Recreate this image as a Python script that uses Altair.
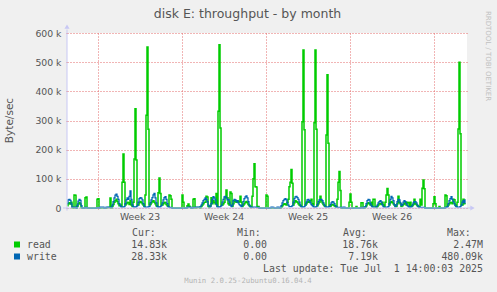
import altair as alt
import pandas as pd

# ---- data, kB/s, one value per 2-hour slot ----
# first slot: Thu 29 May 10:00; last slot: Tue 1 Jul 14:00
READ_K = [
    8, 15, 18, 14, 20, 2, 0,                                   # Thu 29 May
    45, 44, 0, 5, 15, 18, 14, 2, 0, 0, 0, 35,                  # Fri 30
    38, 0, 0, 0, 0, 0, 0, 0, 0, 0, 0, 30,                      # Sat 31
    32, 0, 0, 0, 0, 0, 0, 0, 1, 1, 2, 2,                       # Sun 1 Jun
    34, 0, 5, 12, 20, 25, 30, 22, 15, 8, 10, 5,                # Mon 2
    88, 185, 88, 10, 15, 20, 18, 12, 25, 10, 5, 20,            # Tue 3
    168, 340, 165, 10, 10, 18, 22, 20, 15, 10, 5, 45,          # Wed 4
    318, 552, 270, 10, 12, 18, 22, 25, 20, 15, 8, 5,           # Thu 5
    52, 103, 50, 10, 10, 15, 20, 18, 12, 8, 5, 45,             # Fri 6
    42, 30, 0, 0, 0, 0, 0, 0, 0, 0, 0, 0,                      # Sat 7
    45, 20, 0, 0, 0, 8, 14, 6, 2, 0, 0, 30,                    # Sun 8
    32, 0, 2, 2, 2, 2, 0, 5, 10, 15, 20, 20,                   # Mon 9
    40, 38, 5, 2, 8, 35, 15, 25, 20, 15, 50, 5,                # Tue 10
    332, 560, 274, 10, 10, 15, 20, 35, 62, 35, 15, 10,         # Wed 11
    55, 50, 5, 15, 22, 25, 20, 25, 20, 22, 40, 20,             # Thu 12
    5, 10, 15, 20, 22, 18, 12, 8, 5, 2, 40, 100,               # Fri 13
    152, 73, 72, 5, 5, 0, 0, 0, 0, 0, 0, 0,                    # Sat 14
    45, 40, 0, 0, 0, 0, 0, 0, 0, 0, 0, 0,                      # Sun 15
    0, 0, 0, 3, 8, 12, 15, 13, 10, 20, 30, 73,                 # Mon 16
    88, 132, 85, 10, 18, 25, 22, 20, 15, 10, 8, 5,             # Tue 17
    296, 542, 268, 10, 15, 20, 22, 20, 25, 30, 15, 10,         # Wed 18
    292, 542, 270, 8, 15, 20, 40, 25, 18, 12, 8, 5,            # Thu 19
    250, 457, 222, 5, 5, 10, 12, 10, 8, 5, 3, 30,              # Fri 20
    88, 125, 60, 0, 0, 0, 0, 0, 0, 0, 0, 20,                   # Sat 21
    48, 20, 0, 0, 0, 0, 5, 0, 0, 0, 0, 18,                     # Sun 22
    18, 0, 0, 3, 8, 15, 18, 15, 10, 20, 5, 30,                 # Mon 23
    30, 5, 2, 5, 10, 15, 15, 12, 20, 10, 5, 20,                # Tue 24
    45, 67, 45, 10, 18, 22, 20, 15, 10, 5, 5, 15,              # Wed 25
    40, 20, 15, 5, 8, 12, 15, 20, 10, 20, 18, 5,               # Thu 26
    20, 5, 8, 12, 30, 15, 12, 8, 5, 3, 30, 10,                 # Fri 27
    68, 96, 66, 0, 0, 0, 0, 0, 0, 0, 0, 15,                    # Sat 28
    39, 15, 0, 0, 0, 5, 0, 0, 0, 0, 0, 45,                     # Sun 29
    42, 5, 10, 15, 20, 18, 15, 30, 28, 10, 5, 20,              # Mon 30
    271, 500, 255, 10, 10, 30, 15, 14.83,                      # Tue 1 Jul
]
WRITE_K = [
    15, 28, 30, 26, 14, 3, 2,
    3, 3, 0, 10, 24, 30, 26, 8, 0, 0, 0, 2,
    2, 0, 0, 0, 0, 0, 0, 0, 0, 0, 0, 1,
    1, 0, 3, 3, 3, 3, 0, 0, 3, 3, 3, 2,
    2, 2, 10, 22, 35, 44, 48, 40, 30, 15, 8, 4,
    3, 3, 5, 15, 28, 35, 30, 40, 59, 30, 10, 5,
    3, 3, 5, 8, 20, 32, 36, 34, 28, 15, 5, 3,
    3, 3, 4, 6, 18, 28, 36, 45, 50, 35, 18, 6,
    3, 3, 5, 8, 18, 28, 36, 39, 30, 15, 5, 2,
    2, 1, 0, 0, 0, 0, 0, 0, 0, 0, 0, 0,
    0, 0, 0, 0, 0, 2, 3, 3, 3, 0, 0, 2,
    2, 2, 3, 3, 3, 3, 5, 10, 18, 25, 30, 35,
    30, 22, 10, 5, 5, 15, 30, 39, 35, 28, 12, 5,
    3, 3, 5, 8, 20, 30, 38, 40, 35, 28, 30, 20,
    10, 5, 10, 25, 30, 28, 22, 25, 18, 12, 8, 5,
    10, 22, 32, 38, 42, 35, 22, 10, 4, 2, 2, 3,
    3, 3, 2, 2, 2, 0, 0, 0, 0, 0, 0, 0,
    0, 0, 0, 0, 0, 3, 3, 2, 0, 0, 0, 3,
    3, 0, 2, 8, 18, 25, 30, 32, 28, 18, 10, 5,
    5, 5, 8, 20, 32, 38, 40, 36, 30, 20, 10, 5,
    3, 3, 5, 10, 20, 28, 30, 25, 18, 12, 8, 5,
    3, 3, 5, 12, 22, 28, 30, 30, 25, 18, 10, 5,
    3, 3, 4, 6, 12, 18, 22, 20, 15, 8, 4, 2,
    2, 2, 2, 2, 0, 3, 3, 0, 0, 0, 0, 0,
    0, 0, 0, 0, 0, 0, 0, 0, 0, 0, 0, 2,
    2, 0, 3, 5, 15, 25, 30, 28, 15, 8, 4, 3,
    3, 3, 5, 10, 18, 22, 25, 20, 12, 5, 3, 3,
    3, 3, 5, 15, 30, 40, 35, 25, 12, 5, 10, 22,
    30, 28, 18, 8, 12, 20, 25, 22, 15, 8, 5, 3,
    3, 5, 10, 18, 22, 22, 18, 10, 5, 3, 2, 2,
    2, 2, 2, 0, 0, 0, 0, 0, 0, 0, 0, 0,
    0, 0, 0, 0, 0, 0, 0, 0, 0, 0, 0, 2,
    2, 5, 15, 25, 32, 39, 30, 22, 15, 8, 5, 3,
    3, 3, 5, 10, 20, 25, 18, 28.33,
]
SPAN_H = 800                       # hours shown on the x axis
WEEK_START_H = [62, 230, 398, 566, 734]
WEEK_MID_H = [146, 314, 482, 650]
WEEK_LABELS = ["Week 23", "Week 24", "Week 25", "Week 26"]
Y_TICKS = [0, 100000, 200000, 300000, 400000, 500000, 600000]

SERIES = ["read", "write"]
CUR = ["14.83k", "28.33k"]
MIN = ["0.00", "0.00"]
AVG = ["18.76k", "7.19k"]
MAX = ["2.47M", "480.09k"]

TITLE = "disk E: throughput - by month"
YTITLE = "Byte/sec"
LAST = "Last update: Tue Jul\u00a0\u00a01 14:00:03 2025"
FOOT = "Munin 2.0.25-2ubuntu0.16.04.4"
MARK = "RRDTOOL / TOBI OETIKER"

GREEN = "#00CC00"
BLUE = "#0066B3"
GRID = "#e26a6a"
AXISC = "#c8c8f4"
TXT = "#555555"
SANS = "DejaVu Sans"
MONO = "DejaVu Sans Mono"

n = len(READ_K)
df = pd.DataFrame({
    "h": [2 * i + 1 for i in range(n)],
    "read": [v * 1000 for v in READ_K],
    "write": [v * 1000 for v in WRITE_K],
})

xs = alt.Scale(domain=[0, SPAN_H], nice=False, zero=False)
ys = alt.Scale(domain=[0, 600000], nice=False)

X_AX = alt.Axis(
    values=WEEK_START_H, tickCount=len(WEEK_START_H) + 2, labels=False, title=None, domain=False,
    grid=True, gridColor=GRID, gridDash=[1, 2], gridWidth=1,
    ticks=True, tickSize=3, tickColor=GRID, tickDash=[1, 2], tickWidth=1)
Y_AX = alt.Axis(
    values=Y_TICKS, tickCount=len(Y_TICKS) + 2, title=None, domain=False,
    labelOverlap=False, labelFlush=False,
    labelExpr="datum.value == 0 ? '0\u2002\u00a0' : format(datum.value / 1000, 'd') + ' k'",
    labelFont=SANS, labelFontSize=9.3, labelColor=TXT, labelPadding=4,
    grid=True, gridColor=GRID, gridDash=[1, 2], gridWidth=1,
    ticks=True, tickSize=2, tickColor=GRID, tickDash=[1, 2], tickWidth=1)

X = alt.X("h:Q", scale=xs, axis=X_AX)

read_line = alt.Chart(df).mark_line(interpolate="step", color=GREEN, strokeWidth=1.5).encode(
    x=X, y=alt.Y("read:Q", scale=ys, axis=Y_AX))
write_line = alt.Chart(df).mark_line(interpolate="step", color=BLUE, strokeWidth=1.25).encode(
    x=X, y=alt.Y("write:Q", scale=ys, axis=Y_AX))

one = pd.DataFrame({"k": [0]})
xaxis_line = alt.Chart(one).mark_rule(color=AXISC, strokeWidth=1).encode(
    x=alt.datum(-8), x2=alt.datum(SPAN_H + 8), y=alt.datum(0))
xaxis_arrow = alt.Chart(one).mark_point(shape="triangle-right", filled=True, size=26, color=AXISC, opacity=1).encode(
    x=alt.datum(SPAN_H + 11), y=alt.datum(0))
yaxis_line = alt.Chart(one).mark_rule(color=AXISC, strokeWidth=1).encode(
    x=alt.datum(0), y=alt.datum(-9000), y2=alt.datum(612000))
yaxis_arrow = alt.Chart(one).mark_point(shape="triangle-up", filled=True, size=26, color=AXISC, opacity=1).encode(
    x=alt.datum(0), y=alt.datum(622000))

weeks = alt.Chart(pd.DataFrame({"h": WEEK_MID_H, "lab": WEEK_LABELS})).mark_text(
    font=SANS, fontSize=9.3, color=TXT, baseline="middle").encode(
    x=X, y=alt.value(184), text="lab:N")


def txt(s, x, y, font=MONO, size=9.9, color=TXT, align="left", baseline="middle", angle=0):
    kw = dict(font=font, fontSize=size, color=color, align=align, baseline=baseline)
    if angle:
        kw["angle"] = angle
    return alt.Chart(pd.DataFrame({"t": [s]})).mark_text(**kw).encode(
        x=alt.value(x), y=alt.value(y), text="t:N")


texts = [
    txt(TITLE, 180.5, -15, font=SANS, size=12.5, align="center", baseline="alphabetic"),
    txt(YTITLE, -57, 87.5, font=SANS, size=10.5, align="center", angle=270),
    txt(MARK, 421, 23, font=SANS, size=7, color="#c0c0c0", align="center", angle=90),
    txt("Cur:", 65, 200), txt("Min:", 170, 200), txt("Avg:", 276, 200), txt("Max:", 380, 200),
    txt(LAST, 416, 236, align="right"),
    txt(FOOT, 181, 248, size=7.3, color="#b4b4b4", align="center"),
]
colors = [GREEN, BLUE]
for k, name in enumerate(SERIES):
    yy = 212 + 12 * k
    texts.append(alt.Chart(pd.DataFrame({"k": [0]})).mark_square(
        color=colors[k], size=36, opacity=1, filled=True).encode(x=alt.value(-50), y=alt.value(yy - 0.5)))
    texts.append(txt(name, -40, yy))
    texts.append(txt(CUR[k], 100, yy, align="right"))
    texts.append(txt(MIN[k], 200, yy, align="right"))
    texts.append(txt(AVG[k], 311, yy, align="right"))
    texts.append(txt(MAX[k], 416, yy, align="right"))

chart = alt.layer(
    read_line, write_line, xaxis_line, xaxis_arrow, yaxis_line, yaxis_arrow, weeks, *texts
).properties(
    width=400, height=175,
    padding={"left": 67, "top": 33, "right": 30, "bottom": 84},
    autosize=alt.AutoSizeParams(type="none"),
    background="#f0f0f0",
).configure_view(fill="white", strokeWidth=0)

chart.save("out.html", embed_options={"renderer": "svg", "actions": False})
